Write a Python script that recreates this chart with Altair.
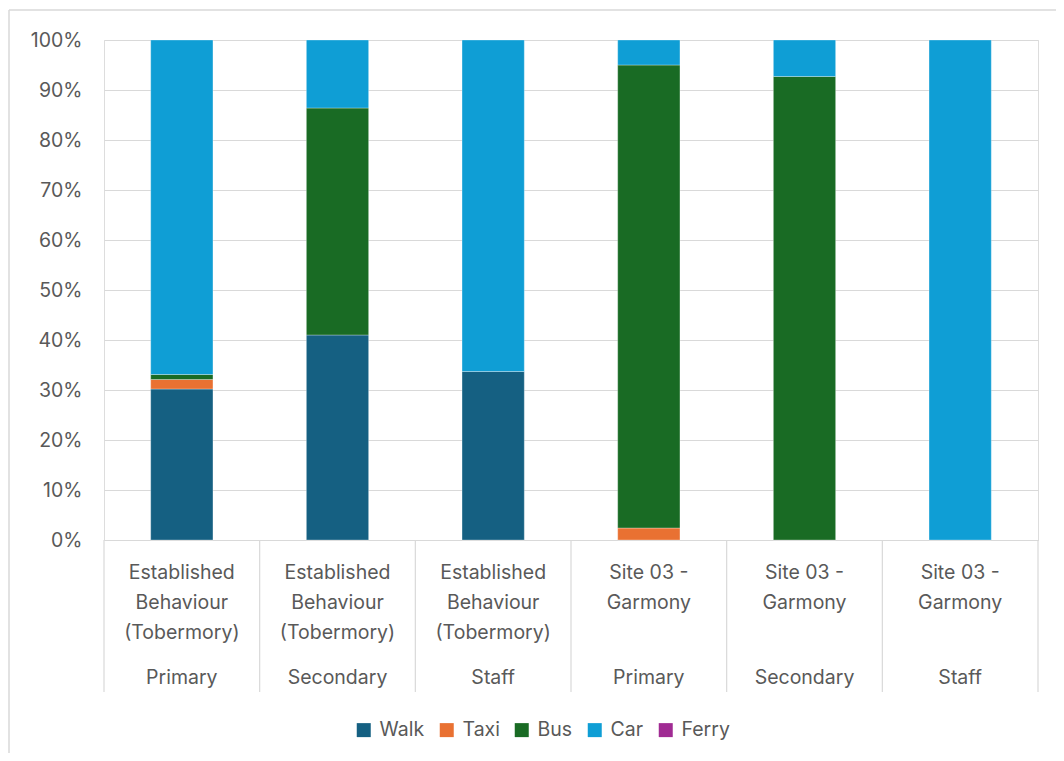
import altair as alt
import pandas as pd

# ---- data ----
keys = ["EB-Primary", "EB-Secondary", "EB-Staff", "S03-Primary", "S03-Secondary", "S03-Staff"]
site_lines = [
    ["Established", "Behaviour", "(Tobermory)"],
    ["Established", "Behaviour", "(Tobermory)"],
    ["Established", "Behaviour", "(Tobermory)"],
    ["Site 03 -", "Garmony"],
    ["Site 03 -", "Garmony"],
    ["Site 03 -", "Garmony"],
]
groups = ["Primary", "Secondary", "Staff", "Primary", "Secondary", "Staff"]
modes = ["Walk", "Taxi", "Bus", "Car", "Ferry"]
colors = ["#156082", "#E97132", "#196B24", "#0F9ED5", "#A02B93"]
walk = [30.2, 41.0, 33.7, 0.0, 0.0, 0.0]
taxi = [1.9, 0.0, 0.0, 2.4, 0.0, 0.0]
bus = [1.0, 45.4, 0.0, 92.6, 92.7, 0.0]
car = [66.9, 13.6, 66.3, 5.0, 7.3, 100.0]
ferry = [0.0, 0.0, 0.0, 0.0, 0.0, 0.0]

series = {"Walk": walk, "Taxi": taxi, "Bus": bus, "Car": car, "Ferry": ferry}
rows = []
for mi, m in enumerate(modes):
    for k, v in zip(keys, series[m]):
        rows.append({"key": k, "mode": m, "value": v, "idx": mi})
bars_df = pd.DataFrame(rows)
labels_df = pd.DataFrame({"key": keys, "site": site_lines, "group": groups})

W, H = 934, 500
PAD_R = 18
step = W / len(keys)
FONT = "Inter"
FS = 19.5
TXT = "#595959"
GRID = "#d9d9d9"

xscale = alt.Scale(domain=keys, paddingInner=0.6, paddingOuter=0.3)
one = pd.DataFrame({"a": [0]})

frame_top = alt.Chart(one).mark_rule(color=GRID, strokeWidth=1.5).encode(
    x=alt.value(-95), x2=alt.value(W + PAD_R + 5), y=alt.value(-30)
)
frame_left = alt.Chart(one).mark_rule(color=GRID, strokeWidth=1.5).encode(
    x=alt.value(-95), y=alt.value(-30), y2=alt.value(H + 300)
)

bars = alt.Chart(bars_df).transform_filter("datum.value > 0").mark_bar(
    stroke="#ffffff", strokeWidth=0.6, strokeOpacity=0.5
).encode(
    x=alt.X("key:N", scale=xscale, sort=keys,
            axis=alt.Axis(labels=False, ticks=False, title=None, domainColor=GRID, domainWidth=1)),
    y=alt.Y("value:Q", stack="normalize",
            scale=alt.Scale(domain=[0, 1]),
            axis=alt.Axis(format=".0%", values=[i / 10 for i in range(11)], title=None,
                          domain=False, ticks=False, grid=True, gridColor=GRID, gridWidth=1,
                          labelPadding=22, labelFontSize=FS, labelColor=TXT, labelFont=FONT)),
    color=alt.Color("mode:N", scale=alt.Scale(domain=modes, range=colors),
                    legend=alt.Legend(title=None, orient="none", direction="horizontal",
                                      legendX=250, legendY=680, symbolType="square",
                                      symbolSize=196, symbolStrokeWidth=0,
                                      labelFontSize=FS, labelColor=TXT, labelFont=FONT,
                                      labelOffset=6, columnPadding=12)),
    order=alt.Order("idx:Q", sort="ascending"),
)

seps = alt.Chart(labels_df).mark_rule(color=GRID, strokeWidth=1.2, xOffset=-step / 2).encode(
    x=alt.X("key:N", scale=xscale, sort=keys, bandPosition=0.5),
    y=alt.value(H), y2=alt.value(H + 152),
)
right_sep = alt.Chart(one).mark_rule(color=GRID, strokeWidth=1.2).encode(
    x=alt.value(W), y=alt.value(H), y2=alt.value(H + 152)
)

site_text = alt.Chart(labels_df).mark_text(
    font=FONT, fontSize=FS, color=TXT, baseline="alphabetic", lineHeight=30, align="center"
).encode(
    x=alt.X("key:N", scale=xscale, sort=keys, bandPosition=0.5),
    y=alt.value(H + 39),
    text="site",
)
group_text = alt.Chart(labels_df).mark_text(
    font=FONT, fontSize=FS, color=TXT, baseline="alphabetic", align="center"
).encode(
    x=alt.X("key:N", scale=xscale, sort=keys, bandPosition=0.5),
    y=alt.value(H + 144),
    text="group:N",
)

chart = alt.layer(frame_top, frame_left, bars, seps, right_sep, site_text, group_text).properties(
    width=W, height=H,
    autosize=alt.AutoSizeParams(type="none"),
    padding={"left": 96, "top": 32, "right": PAD_R, "bottom": 213},
).configure_view(stroke=None).configure(background="white")

chart.save("out.html", embed_options={"renderer": "svg", "actions": False})
